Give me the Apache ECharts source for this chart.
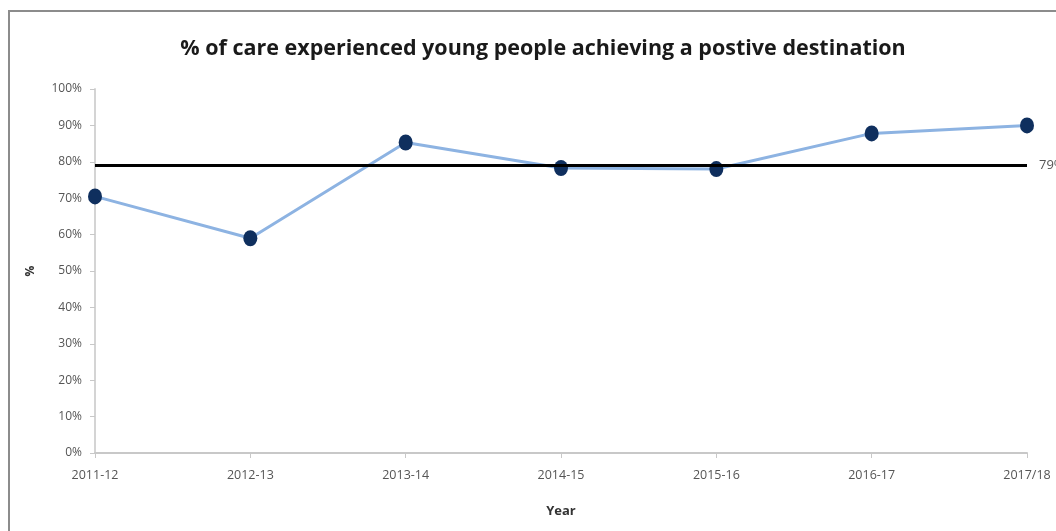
<!DOCTYPE html>
<html>
<head>
<meta charset="utf-8">
<script src="https://cdn.jsdelivr.net/npm/echarts@6/dist/echarts.min.js"></script>
<style>
  html, body { margin: 0; padding: 0; background: #fff; }
  #chart { width: 1056px; height: 531px; }
</style>
</head>
<body>
<div id="chart"></div>
<script>
  // data
  const years = ['2011-12', '2012-13', '2013-14', '2014-15', '2015-16', '2016-17', '2017/18']
  const positive = [70.5, 59, 85.3, 78.3, 78, 87.8, 90]
  const target = 79
  const yTicks = [0, 10, 20, 30, 40, 50, 60, 70, 80, 90, 100]

  const font = '"Open Sans", sans-serif'
  const chart = echarts.init(document.getElementById('chart'))

  let option = {
    animation: false,
    title: {
      text: '% of care experienced young people achieving a postive destination',
      left: 538,
      top: 33,
      textAlign: 'center',
      textStyle: { fontFamily: font, fontSize: 21.5, fontWeight: 'bold', color: '#1a1a1a' }
    },
    graphic: [
      {
        type: 'polyline',
        shape: { points: [[9, 531], [9, 11], [1056, 11]] },
        style: { stroke: '#8c8c8c', lineWidth: 2, fill: null }
      }
    ],
    grid: { left: 95, right: 29, top: 89, bottom: 78 },
    xAxis: {
      type: 'category',
      data: years,
      boundaryGap: false,
      name: 'Year',
      nameLocation: 'middle',
      nameGap: 52,
      nameTextStyle: { fontFamily: font, fontSize: 13, fontWeight: 'bold', color: '#333' },
      axisLine: { lineStyle: { color: '#c8c8c8', width: 2 } },
      axisTick: { show: true, length: 5, lineStyle: { color: '#c8c8c8' } },
      axisLabel: { fontFamily: font, fontSize: 12.5, color: '#555', margin: 16 }
    },
    yAxis: {
      type: 'value',
      min: yTicks[0],
      max: yTicks[yTicks.length - 1],
      interval: 10,
      name: '%',
      nameLocation: 'middle',
      nameGap: 58,
      nameRotate: 90,
      nameTextStyle: { fontFamily: font, fontSize: 12, fontWeight: 'bold', color: '#333' },
      axisLine: { show: true, lineStyle: { color: '#d4d4d4', width: 2 } },
      axisTick: { show: true, length: 5, lineStyle: { color: '#c8c8c8' } },
      splitLine: { show: false },
      axisLabel: { fontFamily: font, fontSize: 12, color: '#555', margin: 13, formatter: '{value}%' }
    },
    series: [
      {
        name: 'Positive destination',
        type: 'line',
        data: positive,
        symbol: 'circle',
        symbolSize: [14, 16],
        lineStyle: { color: '#8db3e2', width: 3 },
        itemStyle: { color: '#0f2f5e' },
        z: 3,
        markLine: {
          silent: true,
          symbol: 'none',
          data: [{ yAxis: target }],
          lineStyle: { color: '#000', width: 3, type: 'solid' },
          label: {
            position: 'end',
            distance: 12,
            formatter: target + '%',
            fontFamily: font,
            fontSize: 13,
            color: '#555'
          }
        }
      }
    ]
  }
  option && chart.setOption(option)
</script>
</body>
</html>
